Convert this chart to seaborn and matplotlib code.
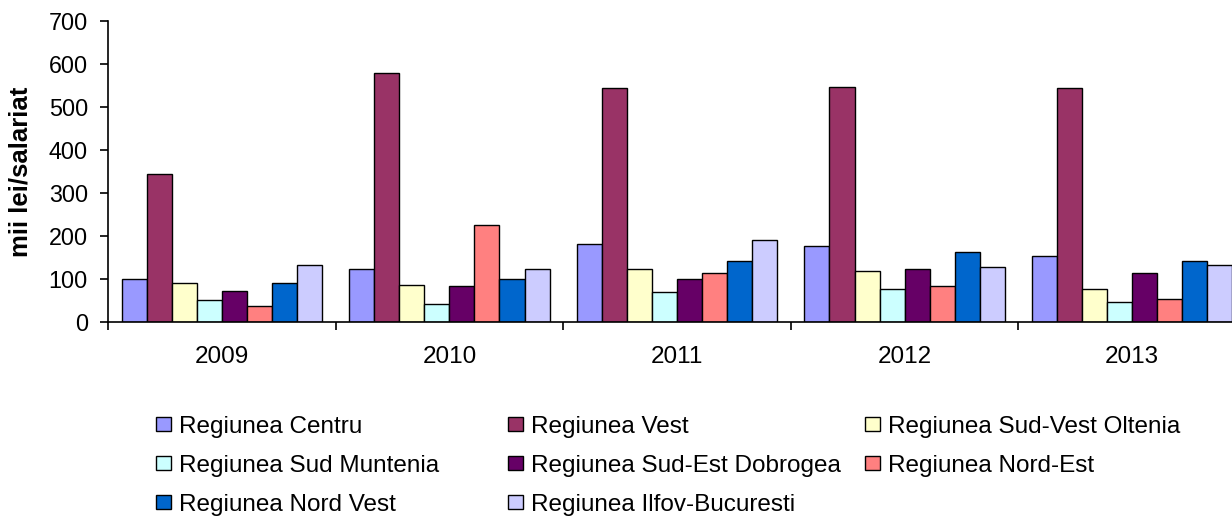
import numpy as np
import pandas as pd
import matplotlib
matplotlib.use("Agg")
import matplotlib.pyplot as plt
from matplotlib.patches import Patch
import seaborn as sns

years = ["2009", "2010", "2011", "2012", "2013"]
regions = ["Regiunea Centru", "Regiunea Vest", "Regiunea Sud-Vest Oltenia",
           "Regiunea Sud Muntenia", "Regiunea Sud-Est Dobrogea", "Regiunea Nord-Est",
           "Regiunea Nord Vest", "Regiunea Ilfov-Bucuresti"]
centru = [100, 123, 181, 177, 154]
vest = [344, 579, 543, 547, 543]
sud_vest_oltenia = [90, 86, 123, 118, 77]
sud_muntenia = [50, 41, 68, 76, 45]
sud_est_dobrogea = [72, 82, 100, 123, 114]
nord_est = [37, 225, 114, 82, 54]
nord_vest = [90, 100, 141, 163, 141]
ilfov_bucuresti = [131, 123, 190, 128, 131]
colors = ["#9999FF", "#993366", "#FFFFCC", "#CCFFFF", "#660066", "#FF8080", "#0066CC", "#CCCCFF"]
y_ticks = [0, 100, 200, 300, 400, 500, 600, 700]
y_label = "mii lei/salariat"

series = [centru, vest, sud_vest_oltenia, sud_muntenia, sud_est_dobrogea,
          nord_est, nord_vest, ilfov_bucuresti]
rows = []
for reg, vals in zip(regions, series):
    for yr, v in zip(years, vals):
        rows.append({"An": yr, "Regiune": reg, "Valoare": v})
df = pd.DataFrame(rows)

sns.set_style("ticks")
plt.rcParams["font.family"] = ["Liberation Sans", "DejaVu Sans"]
plt.rcParams["text.color"] = "black"
plt.rcParams["axes.labelcolor"] = "black"
plt.rcParams["xtick.color"] = "black"
plt.rcParams["ytick.color"] = "black"

W, H = 1232, 517
fig = plt.figure(figsize=(W / 100, H / 100), dpi=100)
ax = fig.add_axes([108 / W, 1 - 321.7 / H, 1138 / W, 300.7 / H])

sns.barplot(data=df, x="An", y="Valoare", hue="Regiune", order=years,
            hue_order=regions, palette=colors, width=0.88, edgecolor="black",
            linewidth=1.0, saturation=1, legend=False, ax=ax, errorbar=None)

ax.set_xlim(-0.5, 4.5)
ax.set_ylim(0, 700)
ax.set_yticks(y_ticks)
ax.set_yticklabels([str(t) for t in y_ticks], fontsize=16.8)
ax.set_xticks(range(len(years)))
ax.set_xticklabels(years, fontsize=17.5)
ax.set_xticks(np.arange(-0.5, len(years) + 0.5, 1.0), minor=True)
ax.tick_params(axis="x", which="major", length=0, pad=17.5, colors="black")
ax.tick_params(axis="x", which="minor", length=5.5, width=1.2, direction="out", color="black")
ax.tick_params(axis="y", which="major", length=5.8, width=1.2, direction="out", pad=8.6, colors="black")
ax.set_xlabel("")
ax.set_ylabel(y_label, fontsize=18.5, fontweight="bold", color="black")
ax.yaxis.set_label_coords(-0.066, 0.5)
for s in ["top", "right"]:
    ax.spines[s].set_visible(False)
for s in ["left", "bottom"]:
    ax.spines[s].set_color("black")
    ax.spines[s].set_linewidth(1.2)

handles = [Patch(facecolor=c, edgecolor="black", linewidth=1.0) for c in colors]
col_idx = [[0, 3, 6], [1, 4, 7], [2, 5]]
col_x = [156, 508, 865]
for idx, x in zip(col_idx, col_x):
    leg = fig.legend([handles[i] for i in idx], [regions[i] for i in idx],
                     loc="upper left", bbox_to_anchor=(x / W, 1 - 416 / H),
                     frameon=False, fontsize=17.5, ncol=1, handlelength=0.62,
                     handleheight=0.5, handletextpad=0.33, labelspacing=0.70,
                     borderpad=0, borderaxespad=0)
    for t in leg.get_texts():
        t.set_color("black")

fig.savefig("out.png", dpi=100)
